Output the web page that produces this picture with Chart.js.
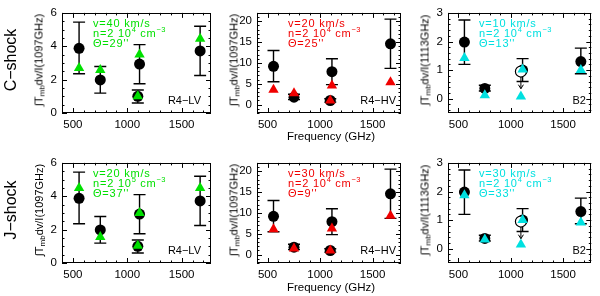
<!DOCTYPE html>
<html>
<head>
<meta charset="utf-8">
<script src="https://cdn.jsdelivr.net/npm/chart.js@4.4.1/dist/chart.umd.min.js"></script>
<style>
body{margin:0;width:600px;height:296px;background:#fff;position:relative;overflow:hidden;
  font-family:"Liberation Sans",Arial,Helvetica,sans-serif;color:#000;}
canvas{position:absolute;}
.t{position:absolute;white-space:nowrap;line-height:1;}
.rot{transform:translate(-50%,-50%) rotate(-90deg);}
.row{font-size:16px;}
.ytitle{font-size:11px;}
.ytitle sub{font-size:8px;position:relative;top:2px;vertical-align:0;}
.freq{font-size:11.5px;transform:translate(-50%,-50%);}
.tag{font-size:11px;transform:translate(-100%,-50%);}
</style>
</head>
<body>
<script>
// water line frequencies (GHz) and tick values
const FREQ = [557, 752, 1097, 1113, 1670];
const X_TICKS = [500, 1000, 1500];

// observed, normalised line intensities with error bar ends
const LV_OBS = [3.88, 1.98, 1.0, 2.93, 3.72];
const LV_LO = [2.35, 1.19, 0.6, 1.75, 2.25];
const LV_HI = [5.45, 2.79, 1.38, 4.1, 5.2];

const HV_OBS = [9.2, 1.8, 1.0, 7.9, 14.6];
const HV_LO = [5.5, 1.2, 0.6, 4.8, 8.7];
const HV_HI = [13.0, 2.5, 1.4, 11.0, 20.5];

const B2_OBS = [1.98, 0.36, null, 1.0, 1.3];
const B2_LO = [1.2, 0.27, null, 0.6, 0.87];
const B2_HI = [2.75, 0.47, null, 1.4, 1.77];
const B2_LIMIT = [null, null, 0.95, null, null];
const B2_LIMIT_TIP = 0.35;

// shock model predictions
const C_LV = [2.7, 2.57, 1.0, 3.5, 4.45];
const C_HV = [3.6, 2.75, 1.0, 4.6, 5.4];
const C_B2 = [1.42, 0.12, 0.08, 1.02, 1.0];
const J_LV = [4.5, 1.56, 1.03, 3.0, 4.5];
const J_HV = [6.1, 1.5, 1.0, 6.3, 9.3];
const J_B2 = [1.87, 0.32, 0.15, 1.0, 0.92];

const GREEN = '#00e000';
const RED = '#f00000';
const CYAN = '#00e0e0';

const LV_AXIS = { ymin: 0, ymax: 6, yticks: [0, 2, 4, 6], yminor: 0.5 };
const HV_AXIS = { ymin: -2, ymax: 22, yticks: [0, 5, 10, 15, 20], yminor: 1 };
const B2_AXIS = { ymin: -0.5, ymax: 3, yticks: [0, 1, 2, 3], yminor: 0.2 };
const XMIN = 400, XMAX = 1770;

const panels = [
	{ left: 62, top: 7, w: 151, axis: LV_AXIS, obs: [LV_OBS, LV_LO, LV_HI], model: C_LV, color: GREEN,
		note: ['v=40 km/s', 'n=2 10^{4} cm^{−3}', 'Θ=29\'\''], tag: 'R4−LV', tagX: 201, ref: '1097' },
	{ left: 257, top: 7, w: 146, axis: HV_AXIS, obs: [HV_OBS, HV_LO, HV_HI], model: C_HV, color: RED,
		note: ['v=20 km/s', 'n=2 10^{4} cm^{−3}', 'Θ=25\'\''], tag: 'R4−HV', tagX: 396, ref: '1097' },
	{ left: 448, top: 7, w: 146, axis: B2_AXIS, obs: [B2_OBS, B2_LO, B2_HI], model: C_B2, color: CYAN, limit: true,
		note: ['v=10 km/s', 'n=2 10^{4} cm^{−3}', 'Θ=13\'\''], tag: 'B2', tagX: 586, ref: '1113' },
	{ left: 62, top: 157, w: 151, axis: LV_AXIS, obs: [LV_OBS, LV_LO, LV_HI], model: J_LV, color: GREEN,
		note: ['v=20 km/s', 'n=2 10^{5} cm^{−3}', 'Θ=37\'\''], tag: 'R4−LV', tagX: 201, ref: '1097' },
	{ left: 257, top: 157, w: 146, axis: HV_AXIS, obs: [HV_OBS, HV_LO, HV_HI], model: J_HV, color: RED,
		note: ['v=30 km/s', 'n=2 10^{4} cm^{−3}', 'Θ=9\'\''], tag: 'R4−HV', tagX: 396, ref: '1097' },
	{ left: 448, top: 157, w: 146, axis: B2_AXIS, obs: [B2_OBS, B2_LO, B2_HI], model: J_B2, color: CYAN, limit: true,
		note: ['v=30 km/s', 'n=2 10^{4} cm^{−3}', 'Θ=33\'\''], tag: 'B2', tagX: 586, ref: '1113' },
];
const PLOT_H = 106;
const FAMILY = '"Liberation Sans", Arial, Helvetica, sans-serif';

function addText(html, cls, x, y) {
	const d = document.createElement('div');
	d.className = 't ' + cls;
	d.innerHTML = html;
	d.style.left = x + 'px';
	d.style.top = y + 'px';
	document.body.appendChild(d);
}

function minorList(min, max, step, majors) {
	const out = [];
	for (let v = Math.ceil(min / step) * step; v <= max + 1e-9; v += step) {
		const r = Math.round(v * 1000) / 1000;
		if (!majors.some((m) => Math.abs(m - r) < 1e-6)) out.push(r);
	}
	return out;
}

// one note line with ^{...} superscripts, drawn char by char with a little
// extra tracking (the original lettering is wide)
function drawNoteLine(ctx, text, x, y) {
	const parts = text.split(/(\^\{[^}]*\})/).filter((s) => s);
	for (const part of parts) {
		const sup = part.startsWith('^{');
		const s = sup ? part.slice(2, -1) : part;
		ctx.font = (sup ? '7.5px ' : '11px ') + FAMILY;
		for (const ch of s) {
			ctx.fillText(ch, x, sup ? y - 5 : y);
			x += ctx.measureText(ch).width + (sup ? 0.4 : 0.8);
		}
	}
}

// error bars, upper-limit arrow, frame, inward IDL-style ticks and notes
function decorations(p) {
	return {
		id: 'decorations',
		beforeDatasetsDraw(chart) {
			const xs = chart.scales.x, ys = chart.scales.y, ctx = chart.ctx;
			const [, lo, hi] = p.obs;
			ctx.save();
			ctx.strokeStyle = '#000';
			ctx.lineWidth = 1.4;
			FREQ.forEach((f, i) => {
				if (lo[i] == null) return;
				const x = xs.getPixelForValue(f);
				const y1 = ys.getPixelForValue(lo[i]);
				const y2 = ys.getPixelForValue(hi[i]);
				ctx.beginPath();
				ctx.moveTo(x, y1); ctx.lineTo(x, y2);
				ctx.moveTo(x - 6, y1); ctx.lineTo(x + 6, y1);
				ctx.moveTo(x - 6, y2); ctx.lineTo(x + 6, y2);
				ctx.stroke();
			});
			if (p.limit) {
				ctx.lineWidth = 1;
				FREQ.forEach((f, i) => {
					if (B2_LIMIT[i] == null) return;
					const x = xs.getPixelForValue(f);
					const y1 = ys.getPixelForValue(B2_LIMIT[i]);
					const y2 = ys.getPixelForValue(B2_LIMIT_TIP);
					ctx.beginPath();
					ctx.moveTo(x, y1); ctx.lineTo(x, y2);
					ctx.moveTo(x - 2.5, y2 - 4); ctx.lineTo(x, y2); ctx.lineTo(x + 2.5, y2 - 4);
					ctx.stroke();
				});
			}
			ctx.fillStyle = p.color;
			ctx.textBaseline = 'alphabetic';
			ctx.textAlign = 'left';
			const a = chart.chartArea;
			p.note.forEach((line, k) => drawNoteLine(ctx, line, a.left + 31, a.top + 14 + 10 * k));
			ctx.restore();
		},
		afterDraw(chart) {
			const a = chart.chartArea, xs = chart.scales.x, ys = chart.scales.y, ctx = chart.ctx;
			ctx.save();
			ctx.strokeStyle = '#000';
			ctx.lineWidth = 1;
			ctx.strokeRect(Math.round(a.left) + 0.5, Math.round(a.top) + 0.5,
				Math.round(a.right - a.left) - 1, Math.round(a.bottom - a.top) - 1);
			ctx.beginPath();
			const xMinor = minorList(XMIN, XMAX, 100, X_TICKS);
			const tickX = (v, len) => {
				const x = Math.round(xs.getPixelForValue(v)) + 0.5;
				ctx.moveTo(x, a.bottom); ctx.lineTo(x, a.bottom - len);
				ctx.moveTo(x, a.top); ctx.lineTo(x, a.top + len);
			};
			X_TICKS.forEach((v) => tickX(v, 5));
			xMinor.forEach((v) => tickX(v, 2.5));
			const ax = p.axis;
			const yMinor = minorList(ax.ymin, ax.ymax, ax.yminor, ax.yticks);
			const tickY = (v, len) => {
				const y = Math.round(ys.getPixelForValue(v)) + 0.5;
				ctx.moveTo(a.left, y); ctx.lineTo(a.left + len, y);
				ctx.moveTo(a.right, y); ctx.lineTo(a.right - len, y);
			};
			ax.yticks.forEach((v) => tickY(v, 5));
			yMinor.forEach((v) => tickY(v, 2.5));
			ctx.stroke();
			ctx.restore();
		},
	};
}

const FONT = { family: FAMILY, size: 11.5 };

panels.forEach((p) => {
	const canvas = document.createElement('canvas');
	const cw = p.w + 34, ch = PLOT_H + 28;
	canvas.width = cw; canvas.height = ch;
	canvas.style.width = cw + 'px'; canvas.style.height = ch + 'px';
	canvas.style.left = (p.left - 30) + 'px';
	canvas.style.top = (p.top - 6) + 'px';
	document.body.appendChild(canvas);

	const [obs] = p.obs;
	const filled = [];
	FREQ.forEach((f, i) => { if (obs[i] != null) filled.push({ x: f, y: obs[i] }); });
	const open = [];
	if (p.limit) FREQ.forEach((f, i) => { if (B2_LIMIT[i] != null) open.push({ x: f, y: B2_LIMIT[i] }); });

	new Chart(canvas, {
		type: 'scatter',
		data: {
			datasets: [
				{ label: 'model', order: 0, data: FREQ.map((f, i) => ({ x: f, y: p.model[i] })),
					pointStyle: 'triangle', pointRadius: 6, backgroundColor: p.color, borderColor: p.color, borderWidth: 0 },
				{ label: 'limit', order: 1, data: open,
					pointStyle: 'circle', pointRadius: 5.5, backgroundColor: '#fff', borderColor: '#000', borderWidth: 1.2 },
				{ label: 'observed', order: 2, data: filled,
					pointStyle: 'circle', pointRadius: 5.5, backgroundColor: '#000', borderColor: '#000', borderWidth: 0 },
			],
		},
		options: {
			responsive: false,
			animation: false,
			events: [],
			layout: { padding: { left: 8, right: 4, top: 6, bottom: 4 } },
			plugins: { legend: { display: false }, tooltip: { enabled: false } },
			scales: {
				x: {
					type: 'linear', min: XMIN, max: XMAX,
					grid: { display: false, drawTicks: false },
					border: { display: false },
					afterBuildTicks: (s) => { s.ticks = X_TICKS.map((v) => ({ value: v })); },
					afterFit: (s) => { s.height = 18; },
					ticks: { color: '#000', font: FONT, padding: 5, maxRotation: 0, callback: (v) => String(v) },
				},
				y: {
					type: 'linear', min: p.axis.ymin, max: p.axis.ymax,
					grid: { display: false, drawTicks: false },
					border: { display: false },
					afterBuildTicks: (s) => { s.ticks = p.axis.yticks.map((v) => ({ value: v })); },
					afterFit: (s) => { s.width = 22; },
					ticks: { color: '#000', font: FONT, padding: 5, callback: (v) => String(v) },
				},
			},
		},
		plugins: [decorations(p)],
	});

	const cy = p.top + PLOT_H / 2;
	addText('∫T<sub>mb</sub>dv/I(' + p.ref + 'GHz)', 'ytitle rot', p.left - 23, cy);
	addText(p.tag, 'tag', p.tagX, p.top + 93);
});

addText('C−shock', 'row rot', 11, 60);
addText('J−shock', 'row rot', 11, 210);
addText('Frequency (GHz)', 'freq', 331, 137);
addText('Frequency (GHz)', 'freq', 331, 288);
</script>
</body>
</html>
